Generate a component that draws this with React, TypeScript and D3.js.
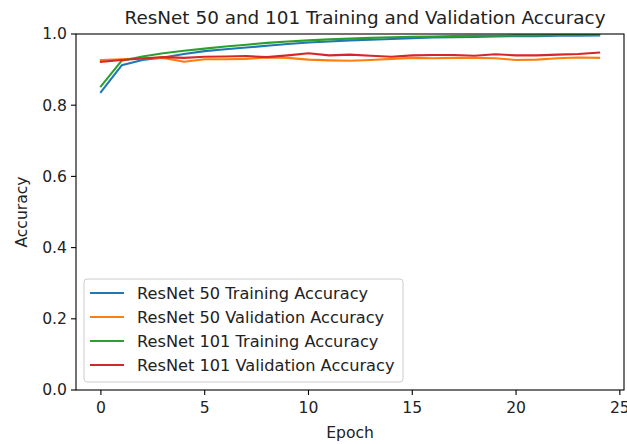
import React from "react";
import * as d3 from "d3";

const epochs = d3.range(0, 25);

const resnet50Train = [0.837, 0.912, 0.927, 0.934, 0.944, 0.952, 0.957, 0.962, 0.967, 0.972, 0.976, 0.979, 0.982, 0.984, 0.986, 0.988, 0.99, 0.991, 0.992, 0.993, 0.994, 0.994, 0.995, 0.995, 0.996];
const resnet50Val = [0.927, 0.929, 0.932, 0.933, 0.922, 0.929, 0.929, 0.93, 0.934, 0.933, 0.928, 0.926, 0.925, 0.927, 0.93, 0.933, 0.932, 0.933, 0.933, 0.932, 0.927, 0.928, 0.932, 0.934, 0.933];
const resnet101Train = [0.853, 0.925, 0.937, 0.946, 0.953, 0.959, 0.965, 0.97, 0.975, 0.979, 0.982, 0.985, 0.987, 0.989, 0.991, 0.992, 0.993, 0.994, 0.995, 0.995, 0.996, 0.996, 0.997, 0.997, 0.997];
const resnet101Val = [0.922, 0.927, 0.931, 0.935, 0.933, 0.936, 0.937, 0.938, 0.935, 0.94, 0.946, 0.94, 0.942, 0.939, 0.936, 0.94, 0.941, 0.941, 0.939, 0.943, 0.94, 0.94, 0.942, 0.944, 0.948];

const seriesNames = [
  "ResNet 50 Training Accuracy",
  "ResNet 50 Validation Accuracy",
  "ResNet 101 Training Accuracy",
  "ResNet 101 Validation Accuracy",
];
const seriesColors = ["#1f77b4", "#ff7f0e", "#2ca02c", "#d62728"];
const xTicks = [0, 5, 10, 15, 20, 25];
const yTicks = [0, 0.2, 0.4, 0.6, 0.8, 1.0];

const width = 627;
const height = 444;
const left = 76;
const right = 624;
const top = 34;
const bottom = 390;
const font = "'DejaVu Sans', sans-serif";
const fs = 15.6;
const legendFs = 16.2;

export default function App() {
  const series = [resnet50Train, resnet50Val, resnet101Train, resnet101Val];

  // matplotlib-style 5% margin on x
  const x = d3.scaleLinear().domain([-1.2, 25.2]).range([left, right]);
  const y = d3.scaleLinear().domain([0, 1]).range([bottom, top]);

  const line = d3
    .line<number>()
    .x((_, i) => x(epochs[i]))
    .y((d) => y(d));

  return (
    <svg
      width={width}
      height={height}
      style={{ position: "absolute", left: 0, top: 0, background: "#fff" }}
      fontFamily={font}
    >
      <defs>
        <clipPath id="plot">
          <rect x={left} y={top} width={right - left} height={bottom - top} />
        </clipPath>
      </defs>

      {/* lines */}
      <g clipPath="url(#plot)">
        {series.map((s, i) => (
          <path
            key={i}
            d={line(s) || ""}
            fill="none"
            stroke={seriesColors[i]}
            strokeWidth={2.1}
            strokeLinejoin="round"
            strokeLinecap="square"
          />
        ))}
      </g>

      {/* spines */}
      <rect
        x={left}
        y={top}
        width={right - left}
        height={bottom - top}
        fill="none"
        stroke="#000"
        strokeWidth={1.1}
      />

      {/* x ticks */}
      {xTicks.map((t) => (
        <g key={t} transform={`translate(${x(t)},${bottom})`}>
          <line y2={5} stroke="#000" strokeWidth={1.1} />
          <text y={23} textAnchor="middle" fontSize={fs} fill="#222">
            {t}
          </text>
        </g>
      ))}

      {/* y ticks */}
      {yTicks.map((t) => (
        <g key={t} transform={`translate(${left},${y(t)})`}>
          <line x2={-5} stroke="#000" strokeWidth={1.1} />
          <text x={-9} dy="0.35em" textAnchor="end" fontSize={fs} fill="#222">
            {t.toFixed(1)}
          </text>
        </g>
      ))}

      {/* labels */}
      <text x={(left + right) / 2} y={438} textAnchor="middle" fontSize={fs} fill="#222">
        Epoch
      </text>
      <text
        transform={`translate(27,${(top + bottom) / 2}) rotate(-90)`}
        textAnchor="middle"
        fontSize={fs}
        fill="#222"
      >
        Accuracy
      </text>
      <text x={(left + right) / 2 + 15} y={24} textAnchor="middle" fontSize={18.4} fill="#222">
        ResNet 50 and 101 Training and Validation Accuracy
      </text>

      {/* legend */}
      <g transform="translate(84,279)">
        <rect
          width={319}
          height={103}
          rx={3}
          fill="#fff"
          fillOpacity={0.8}
          stroke="#ccc"
          strokeWidth={1}
        />
        {seriesNames.map((name, i) => (
          <g key={name} transform={`translate(0,${14 + i * 24})`}>
            <line x1={6} x2={40} stroke={seriesColors[i]} strokeWidth={2.1} />
            <text x={53} dy="0.35em" fontSize={legendFs} fill="#222">
              {name}
            </text>
          </g>
        ))}
      </g>
    </svg>
  );
}
